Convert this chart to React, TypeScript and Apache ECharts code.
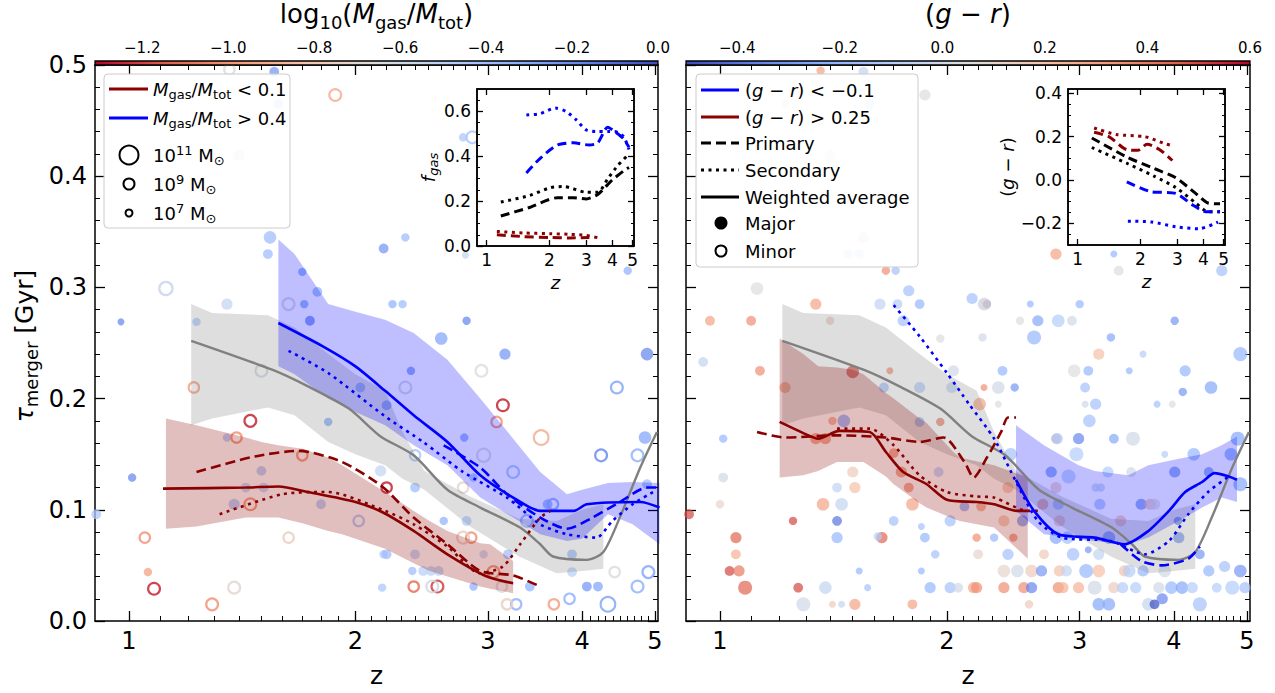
import React, { useEffect, useRef } from "react";
import * as echarts from "echarts";

// ---------------- tick labels ----------------
const zMajorTicks = [1, 2, 3, 4, 5];
const tauMajorTicks = [0, 0.1, 0.2, 0.3, 0.4, 0.5];
const fgasInsetTicks = [0, 0.2, 0.4, 0.6];
const grInsetTicks = [-0.2, 0, 0.2, 0.4];
const fgasCbarTicks = [-1.2, -1.0, -0.8, -0.6, -0.4, -0.2, 0.0];
const grCbarTicks = [-0.4, -0.2, 0.0, 0.2, 0.4, 0.6];

// ---------------- all mergers (gray) ----------------
const allZ = [1.21, 1.55, 1.73, 1.96, 2.16, 2.39, 2.65, 2.93, 3.31, 3.52, 3.66, 4.06, 4.27, 4.49, 4.78, 5.03];
const allTau = [0.252, 0.226, 0.211, 0.191, 0.166, 0.149, 0.118, 0.102, 0.084, 0.069, 0.058, 0.055, 0.062, 0.093, 0.138, 0.17];
const allBandZ = [1.21, 1.29, 1.53, 1.66, 1.84, 2.0, 2.19, 2.31, 2.47, 2.84, 3.3, 3.7, 4.0, 4.27];
const allBandHi = [0.285, 0.277, 0.275, 0.264, 0.24, 0.222, 0.207, 0.17, 0.135, 0.112, 0.092, 0.09, 0.1, 0.105];
const allBandLo = [0.176, 0.182, 0.192, 0.185, 0.161, 0.15, 0.14, 0.128, 0.118, 0.085, 0.058, 0.043, 0.045, 0.047];

// ---------------- left panel: gas-rich (blue) ----------------
const gasRichBandZ = [1.58, 1.66, 1.84, 2.0, 2.19, 2.39, 2.65, 2.93, 3.24, 3.52, 3.82, 4.0, 4.33, 4.67, 5.07];
const gasRichBandHi = [0.343, 0.33, 0.285, 0.278, 0.271, 0.259, 0.235, 0.2, 0.164, 0.134, 0.114, 0.118, 0.124, 0.125, 0.124];
const gasRichBandLo = [0.229, 0.222, 0.2, 0.188, 0.176, 0.158, 0.14, 0.111, 0.093, 0.078, 0.072, 0.074, 0.096, 0.087, 0.069];
const gasRichAvgZ = [1.58, 1.81, 2.0, 2.19, 2.39, 2.65, 2.93, 3.24, 3.52, 3.9, 4.06, 4.78, 5.07];
const gasRichAvgTau = [0.268, 0.247, 0.229, 0.207, 0.185, 0.161, 0.131, 0.111, 0.099, 0.099, 0.105, 0.107, 0.102];
const gasRichSecZ = [1.63, 1.84, 2.19, 2.46, 2.78, 3.18, 3.52, 3.82, 4.18, 4.39, 4.67, 4.97];
const gasRichSecTau = [0.243, 0.223, 0.184, 0.161, 0.134, 0.111, 0.087, 0.078, 0.075, 0.09, 0.105, 0.116];
const gasRichPriZ = [2.62, 2.93, 3.18, 3.52, 3.82, 4.13, 4.49, 4.88, 5.07];
const gasRichPriTau = [0.158, 0.138, 0.114, 0.093, 0.083, 0.093, 0.107, 0.12, 0.12];

// ---------------- left panel: gas-poor (dark red) ----------------
const gasPoorBandZ = [1.12, 1.23, 1.43, 1.5, 1.58, 1.7, 1.84, 1.92, 2.19, 2.39, 2.51, 2.65, 2.93, 3.02, 3.24];
const gasPoorBandHi = [0.182, 0.176, 0.165, 0.161, 0.158, 0.155, 0.147, 0.14, 0.116, 0.099, 0.09, 0.081, 0.07, 0.069, 0.054];
const gasPoorBandLo = [0.083, 0.085, 0.093, 0.093, 0.093, 0.088, 0.081, 0.078, 0.065, 0.052, 0.045, 0.04, 0.031, 0.029, 0.025];
const gasPoorAvgZ = [1.11, 1.43, 1.58, 1.73, 2.0, 2.17, 2.39, 2.65, 2.99, 3.24];
const gasPoorAvgTau = [0.119, 0.12, 0.121, 0.116, 0.107, 0.098, 0.081, 0.06, 0.04, 0.034];
const gasPoorPriZ = [1.23, 1.47, 1.68, 1.92, 2.17, 2.39, 2.65, 2.93, 3.24, 3.52];
const gasPoorPriTau = [0.134, 0.148, 0.153, 0.143, 0.121, 0.093, 0.069, 0.045, 0.041, 0.031];
const gasPoorSecZ = [1.32, 1.6, 1.84, 2.19, 2.39, 2.65, 2.93, 3.14, 3.31, 3.52, 3.63];
const gasPoorSecTau = [0.096, 0.114, 0.116, 0.099, 0.087, 0.067, 0.043, 0.049, 0.069, 0.093, 0.099];

// ---------------- right panel: blue (g-r < -0.1) ----------------
const blueBandZ = [2.47, 2.69, 2.99, 3.14, 3.48, 3.7, 4.06, 4.36, 4.63, 4.85];
const blueBandHi = [0.176, 0.158, 0.14, 0.135, 0.131, 0.14, 0.146, 0.15, 0.158, 0.166];
const blueBandLo = [0.099, 0.078, 0.074, 0.072, 0.069, 0.075, 0.09, 0.102, 0.111, 0.107];
const blueAvgZ = [2.47, 2.61, 2.81, 3.14, 3.44, 3.7, 3.94, 4.14, 4.36, 4.53, 4.73, 4.85];
const blueAvgTau = [0.127, 0.099, 0.078, 0.075, 0.069, 0.081, 0.099, 0.116, 0.125, 0.133, 0.13, 0.127];
const blueSecZ = [1.7, 1.84, 2.0, 2.14, 2.31, 2.48, 2.64, 2.84, 3.3, 3.66, 3.94, 4.18, 4.44, 4.73];
const blueSecTau = [0.284, 0.256, 0.223, 0.195, 0.164, 0.123, 0.09, 0.075, 0.072, 0.06, 0.072, 0.096, 0.116, 0.13];
const bluePriZ = [3.4, 3.62, 3.85, 4.18, 4.33];
const bluePriTau = [0.069, 0.054, 0.05, 0.056, 0.067];

// ---------------- right panel: red (g-r > 0.25) ----------------
const redBandZ = [1.2, 1.29, 1.35, 1.43, 1.5, 1.55, 1.66, 1.7, 1.84, 1.88, 2.04, 2.08, 2.31, 2.56];
const redBandHi = [0.254, 0.24, 0.229, 0.228, 0.226, 0.222, 0.205, 0.2, 0.182, 0.178, 0.152, 0.147, 0.14, 0.129];
const redBandLo = [0.129, 0.131, 0.135, 0.143, 0.143, 0.143, 0.13, 0.123, 0.106, 0.102, 0.092, 0.09, 0.084, 0.056];
const redAvgZ = [1.2, 1.29, 1.35, 1.44, 1.58, 1.66, 1.75, 1.88, 2.0, 2.19, 2.31, 2.48, 2.56];
const redAvgTau = [0.179, 0.169, 0.164, 0.171, 0.17, 0.152, 0.134, 0.123, 0.109, 0.107, 0.105, 0.099, 0.099];
const redPriZ = [1.12, 1.22, 1.43, 1.66, 1.84, 1.98, 2.11, 2.17, 2.26, 2.36, 2.41, 2.47];
const redPriTau = [0.17, 0.165, 0.167, 0.165, 0.161, 0.165, 0.143, 0.129, 0.147, 0.17, 0.183, 0.183];
const redSecZ = [1.43, 1.58, 1.7, 1.84, 2.0, 2.19, 2.31, 2.56, 2.64];
const redSecTau = [0.173, 0.173, 0.158, 0.131, 0.116, 0.112, 0.111, 0.099, 0.099];

// ---------------- left inset: f_gas vs z ----------------
const fgRichSecZ = [1.55, 1.8, 2.13, 2.4, 2.7, 3.0, 3.4, 3.8, 4.1, 4.5, 4.8];
const fgRichSec = [0.584, 0.59, 0.615, 0.6, 0.56, 0.517, 0.51, 0.51, 0.51, 0.49, 0.43];
const fgRichPriZ = [1.55, 1.8, 2.18, 2.6, 3.1, 3.4, 3.8, 4.1, 4.5, 4.8];
const fgRichPri = [0.326, 0.39, 0.45, 0.46, 0.45, 0.46, 0.53, 0.51, 0.48, 0.44];
const fgAllSecZ = [1.17, 1.6, 2.02, 2.34, 3.0, 3.4, 3.8, 4.25, 4.8];
const fgAllSec = [0.196, 0.225, 0.26, 0.265, 0.24, 0.24, 0.3, 0.36, 0.41];
const fgAllPriZ = [1.17, 1.58, 2.18, 2.6, 3.0, 3.4, 4.0, 4.6, 4.8];
const fgAllPri = [0.134, 0.17, 0.215, 0.215, 0.21, 0.23, 0.295, 0.34, 0.35];
const fgPoorSecZ = [1.12, 1.5, 2.0, 2.5, 3.0, 3.4];
const fgPoorSec = [0.065, 0.058, 0.055, 0.052, 0.047, 0.037];
const fgPoorPriZ = [1.12, 1.5, 2.0, 2.5, 3.1];
const fgPoorPri = [0.05, 0.042, 0.038, 0.036, 0.038];

// ---------------- right inset: (g-r) vs z ----------------
const grRedSecZ = [1.2, 1.53, 2.09, 2.58, 2.8];
const grRedSec = [0.24, 0.21, 0.2, 0.17, 0.16];
const grRedPriZ = [1.2, 1.41, 1.72, 1.94, 2.15, 2.47, 2.84];
const grRedPri = [0.22, 0.2, 0.14, 0.137, 0.165, 0.14, 0.09];
const grAllPriZ = [1.17, 1.72, 2.32, 2.95, 3.67, 4.2, 4.8];
const grAllPri = [0.194, 0.106, 0.053, 0.01, -0.062, -0.106, -0.11];
const grAllSecZ = [1.17, 1.74, 2.32, 2.95, 3.67, 4.2, 4.8];
const grAllSec = [0.15, 0.075, 0.018, -0.035, -0.106, -0.146, -0.146];
const grBluePriZ = [1.72, 2.22, 2.95, 3.55, 4.1, 4.8];
const grBluePri = [-0.009, -0.053, -0.062, -0.115, -0.146, -0.146];
const grBlueSecZ = [1.74, 2.27, 2.95, 3.8, 4.7];
const grBlueSec = [-0.19, -0.194, -0.216, -0.225, -0.194];

// ---------------- scatter: [z, tau, log10(Mgas/Mtot), log10 M, major(1)/minor(0)] ----------------
const leftPoints: number[][] = [
  [1.36, 0.496, -0.65, 8.5, 0], [1.56, 0.494, -0.25, 9, 1], [1.88, 0.473, -0.9, 9, 0], [1.58, 0.465, -0.45, 9, 1],
  [1.40, 0.419, -0.6, 9.5, 1], [1.54, 0.345, -0.4, 10, 1], [1.53, 0.33, -0.4, 9, 1], [2.18, 0.335, -0.25, 9, 1],
  [2.33, 0.345, -0.4, 8.5, 1], [0.976, 0.269, -0.2, 8, 1], [1.23, 0.269, -0.45, 8.5, 1], [1.12, 0.299, -0.55, 9.5, 0],
  [1.35, 0.285, -0.55, 9.5, 1], [0.905, 0.096, -0.45, 9, 1], [1.01, 0.129, -0.2, 8.5, 1], [1.05, 0.075, -1.0, 8.5, 0],
  [1.06, 0.044, -0.95, 8.5, 1], [1.08, 0.029, -1.25, 9, 0], [1.29, 0.015, -1.0, 9, 0], [1.38, 0.03, -0.7, 9, 0],
  [1.22, 0.21, -0.95, 8.5, 0], [1.45, 0.18, -1.25, 9, 0], [1.35, 0.165, -0.45, 8.5, 1], [1.39, 0.165, -1.0, 8.5, 0],
  [1.5, 0.225, -0.6, 9, 0], [1.5, 0.135, -0.45, 9, 1], [1.43, 0.12, -0.5, 9, 1], [1.51, 0.12, -0.5, 9, 1],
  [1.38, 0.105, -0.45, 9.5, 1], [1.45, 0.105, -1.0, 9, 0], [1.7, 0.149, -1.0, 8.5, 0], [1.63, 0.075, -0.75, 8.5, 0],
  [1.8, 0.105, -0.45, 9, 1], [1.84, 0.179, -0.3, 8.5, 1], [2.02, 0.09, -0.45, 8.5, 0], [2.16, 0.135, -0.55, 9.5, 1],
  [1.74, 0.27, -0.2, 9, 1], [1.71, 0.285, -0.3, 8.5, 1], [1.7, 0.314, -0.3, 8.5, 1], [1.78, 0.296, -0.35, 9, 1],
  [1.63, 0.285, -0.6, 9, 0], [2.03, 0.21, -0.35, 9, 1], [2.18, 0.06, -0.45, 8.5, 1], [2.17, 0.03, -0.45, 8.5, 1],
  [2.8, 0.329, -0.55, 8, 1], [4.6, 0.315, -0.35, 8.5, 1], [2.24, 0.285, -0.35, 8.5, 1], [2.31, 0.285, -0.4, 8.5, 1],
  [2.81, 0.27, -0.2, 8.5, 1], [2.6, 0.254, -0.3, 10, 1], [3.16, 0.24, -0.25, 9.5, 1], [4.88, 0.24, -0.2, 10, 1],
  [2.94, 0.225, -0.65, 9, 0], [2.37, 0.225, -0.25, 8.5, 1], [4.45, 0.21, -0.3, 9, 0], [2.33, 0.21, -0.6, 9, 0],
  [3.14, 0.194, -1.25, 9, 0], [3.08, 0.179, -1.0, 8.5, 0], [3.53, 0.165, -0.9, 10, 0], [2.79, 0.165, -0.3, 8.5, 1],
  [4.85, 0.165, -0.3, 10, 1], [4.24, 0.149, -0.2, 9, 0], [4.74, 0.149, -0.35, 9, 0], [2.4, 0.149, -0.45, 8.5, 0],
  [2.96, 0.149, -0.65, 9.5, 0], [2.2, 0.194, -0.3, 9, 1], [3.24, 0.134, -0.45, 9, 0], [2.4, 0.12, -0.4, 9, 1],
  [2.2, 0.12, -1.25, 8.5, 0], [2.78, 0.12, -0.7, 8.5, 0], [2.87, 0.129, -0.4, 8.5, 1], [4.88, 0.123, -0.4, 9, 1],
  [3.6, 0.105, -0.35, 9, 1], [3.66, 0.105, -0.35, 8.5, 0], [2.62, 0.09, -0.35, 8.5, 1], [2.81, 0.09, -0.45, 9, 1],
  [3.38, 0.09, -0.4, 9, 0], [2.85, 0.075, -1.0, 8.5, 0], [2.78, 0.075, -0.75, 9, 0], [3.88, 0.06, -0.4, 9, 1],
  [3.19, 0.06, -0.4, 9, 1], [2.2, 0.06, -0.4, 9, 1], [2.4, 0.06, -0.5, 9, 1], [2.96, 0.06, -0.55, 8.5, 1],
  [2.38, 0.045, -0.4, 8.5, 1], [2.46, 0.045, -0.5, 9, 1], [2.52, 0.045, -0.5, 9, 1], [2.58, 0.045, -0.5, 9, 1],
  [3.88, 0.044, -0.5, 9, 1], [3.05, 0.044, -1.0, 9, 0], [4.42, 0.044, -0.65, 8.5, 0], [4.9, 0.044, -0.3, 9, 0],
  [4.06, 0.031, -0.25, 9, 1], [4.2, 0.031, -0.3, 9, 1], [3.41, 0.031, -0.35, 9, 1], [2.87, 0.031, -0.35, 8.5, 1],
  [2.57, 0.031, -1.2, 9, 0], [2.53, 0.031, -0.6, 9, 0], [2.39, 0.031, -1.1, 8.5, 0], [4.74, 0.031, -0.35, 9, 0],
  [3.27, 0.015, -0.35, 8.5, 0], [3.18, 0.015, -0.75, 8.5, 0], [3.67, 0.015, -0.95, 8.5, 0], [3.85, 0.02, -0.35, 8.5, 0],
  [4.33, 0.015, -0.3, 10, 0], [3.13, 0.031, -0.65, 8.5, 0], [2.78, 0.435, -0.45, 8.5, 1], [2.86, 0.435, -0.45, 9, 0],
];

// [z, tau, (g-r), log10 M]
const rightPoints: number[][] = [
  [1.36, 0.495, 0.3, 8.5], [1.55, 0.494, -0.05, 9], [1.87, 0.473, 0.05, 9.5], [1.22, 0.465, 0.15, 8.5],
  [1.58, 0.465, -0.1, 9], [1.36, 0.449, 0.15, 8.5], [1.4, 0.419, 0.05, 9.5], [1.55, 0.345, 0.15, 9.5],
  [1.48, 0.33, 0.0, 9], [1.53, 0.33, -0.05, 9], [1.66, 0.315, 0.35, 8.5], [1.71, 0.315, -0.15, 8.5],
  [1.12, 0.299, 0.05, 10], [0.97, 0.27, 0.3, 9], [1.1, 0.27, 0.35, 9], [1.34, 0.285, 0.3, 9.5],
  [1.4, 0.27, 0.15, 8.5], [0.95, 0.233, -0.05, 9], [1.13, 0.225, 0.35, 9], [1.5, 0.224, 0.5, 10],
  [1.68, 0.225, 0.35, 8], [1.22, 0.21, 0.3, 9.5], [1.65, 0.21, -0.15, 9], [1.78, 0.297, -0.15, 9.5],
  [1.63, 0.285, -0.05, 9.5], [1.72, 0.285, -0.1, 9], [1.84, 0.285, -0.2, 9], [1.75, 0.27, -0.15, 9.5],
  [1.96, 0.254, 0.05, 8.5], [2.04, 0.225, 0.0, 9.5], [2.16, 0.29, -0.15, 9.5], [1.84, 0.21, -0.1, 9.5],
  [2.03, 0.21, -0.05, 9.5], [1.84, 0.179, -0.2, 9], [1.96, 0.179, 0.4, 8.5], [1.46, 0.18, -0.25, 10],
  [1.41, 0.18, 0.3, 8.5], [1.01, 0.164, -0.2, 8.5], [1.34, 0.164, 0.35, 9.5], [1.38, 0.164, 0.35, 9.5],
  [1.01, 0.129, 0.0, 9], [1.5, 0.134, 0.15, 9.5], [1.7, 0.151, 0.35, 9], [1.74, 0.134, 0.35, 9.5],
  [1.95, 0.134, -0.1, 9], [1.78, 0.12, 0.35, 9], [1.43, 0.12, -0.05, 9], [1.51, 0.12, 0.2, 9.5],
  [1.0, 0.105, 0.1, 8.5], [1.37, 0.105, 0.3, 10], [1.45, 0.105, -0.05, 10], [1.8, 0.105, 0.3, 10],
  [2.11, 0.103, -0.25, 9], [0.91, 0.096, 0.5, 9], [1.25, 0.09, 0.5, 8.5], [1.43, 0.09, -0.4, 9],
  [1.7, 0.09, -0.15, 9], [2.02, 0.09, -0.15, 9.5], [1.85, 0.085, -0.15, 8], [1.05, 0.075, 0.45, 9.5],
  [1.43, 0.075, -0.2, 9.5], [1.64, 0.075, 0.45, 9.5], [1.62, 0.076, -0.1, 8.5], [1.87, 0.075, -0.2, 9],
  [1.05, 0.06, 0.25, 9], [1.93, 0.06, -0.15, 8.5], [1.03, 0.045, 0.5, 9], [1.06, 0.045, 0.4, 9.5],
  [1.53, 0.045, -0.2, 8], [1.85, 0.045, -0.2, 8], [1.08, 0.03, 0.45, 10.5], [1.27, 0.03, 0.5, 9],
  [1.38, 0.03, -0.05, 10], [1.57, 0.03, -0.15, 8], [1.9, 0.03, -0.2, 9.5], [2.02, 0.03, -0.15, 9.5],
  [2.07, 0.03, 0.0, 9], [2.17, 0.03, 0.3, 9.5], [1.29, 0.015, 0.0, 10.5], [1.41, 0.015, 0.15, 8],
  [1.45, 0.015, -0.05, 8], [1.51, 0.015, 0.3, 9.5], [1.8, 0.015, 0.3, 9],
  [2.79, 0.33, 0.3, 9.5], [3.33, 0.33, -0.2, 8], [3.38, 0.315, 0.05, 9], [4.63, 0.315, -0.15, 9.5],
  [2.24, 0.285, -0.05, 10], [2.26, 0.285, -0.4, 8.5], [2.25, 0.285, 0.1, 9.5], [2.58, 0.285, -0.2, 8],
  [3.0, 0.285, -0.2, 8.5], [2.5, 0.27, 0.05, 8.5], [2.64, 0.27, -0.25, 9.5], [2.81, 0.27, -0.1, 10],
  [2.93, 0.27, 0.0, 9], [4.01, 0.27, -0.3, 8.5], [2.23, 0.255, 0.0, 8.5], [2.61, 0.255, -0.2, 10.5],
  [3.3, 0.255, -0.25, 8.5], [3.18, 0.24, 0.2, 9.5], [3.64, 0.24, -0.1, 8], [4.9, 0.24, -0.2, 10.5],
  [2.37, 0.225, -0.2, 9], [2.95, 0.225, 0.05, 10], [3.08, 0.225, -0.2, 9], [3.49, 0.225, -0.2, 8],
  [4.14, 0.225, -0.2, 9.5], [2.24, 0.21, 0.35, 8], [2.34, 0.21, 0.0, 10], [2.46, 0.21, -0.3, 8.5],
  [3.05, 0.21, -0.15, 9], [4.11, 0.206, -0.3, 8.5], [4.48, 0.21, -0.25, 10], [2.21, 0.195, 0.3, 10],
  [2.34, 0.195, 0.05, 8], [3.05, 0.195, 0.0, 8], [3.15, 0.195, -0.15, 9.5], [3.8, 0.195, -0.15, 8],
  [3.98, 0.195, 0.05, 8], [3.09, 0.18, -0.15, 10], [2.79, 0.164, 0.2, 9], [2.8, 0.164, -0.15, 9.5],
  [2.99, 0.164, -0.35, 9.5], [3.33, 0.164, -0.25, 9], [3.53, 0.164, 0.0, 10.5], [4.86, 0.164, -0.25, 10.5],
  [2.43, 0.15, -0.15, 10], [2.97, 0.15, -0.1, 10.5], [3.89, 0.15, -0.1, 8], [4.25, 0.15, -0.2, 10],
  [4.76, 0.15, -0.25, 10], [2.75, 0.134, -0.3, 9.5], [2.9, 0.13, -0.1, 10.5], [3.27, 0.134, -0.1, 9.5],
  [3.51, 0.134, 0.0, 9], [4.01, 0.134, -0.3, 9.5], [4.45, 0.134, -0.3, 9], [4.9, 0.123, -0.25, 10.5],
  [3.15, 0.12, -0.05, 8.5], [3.2, 0.12, -0.05, 8.5], [2.79, 0.12, 0.15, 9.5], [2.41, 0.12, 0.2, 9.5],
  [2.22, 0.103, 0.3, 9], [2.68, 0.105, 0.3, 9.5], [2.81, 0.105, -0.15, 9.5], [3.19, 0.105, -0.15, 9.5],
  [3.62, 0.105, -0.3, 9.5], [3.72, 0.105, 0.2, 9.5], [3.77, 0.105, 0.05, 9.5], [2.38, 0.09, 0.2, 9.5],
  [2.52, 0.09, -0.3, 9.5], [2.82, 0.09, 0.2, 9.5], [3.4, 0.09, 0.2, 9.5], [4.05, 0.09, -0.35, 8.5],
  [2.19, 0.075, 0.35, 8.5], [2.31, 0.075, -0.2, 8.5], [2.45, 0.075, 0.35, 8.5], [2.79, 0.075, -0.25, 10],
  [2.89, 0.075, -0.15, 10], [3.28, 0.075, -0.3, 10], [4.06, 0.075, -0.3, 9.5], [2.2, 0.06, 0.1, 9],
  [2.41, 0.06, -0.15, 9.5], [2.69, 0.06, 0.15, 9], [2.94, 0.06, -0.15, 10], [3.18, 0.06, -0.05, 9.5],
  [3.08, 0.064, -0.3, 8], [4.33, 0.06, -0.3, 9], [2.38, 0.045, 0.1, 10], [2.48, 0.045, 0.0, 10],
  [2.59, 0.045, 0.15, 10], [2.67, 0.045, -0.3, 9.5], [2.82, 0.045, 0.2, 9.5], [2.88, 0.045, -0.05, 9.5],
  [3.06, 0.045, -0.2, 10.5], [3.18, 0.045, 0.2, 10], [3.44, 0.045, 0.2, 9.5], [3.49, 0.045, -0.1, 10],
  [3.64, 0.045, -0.2, 9.5], [3.89, 0.045, 0.0, 10], [4.45, 0.045, -0.2, 9.5], [4.67, 0.049, -0.15, 9.5],
  [4.9, 0.045, -0.3, 10], [2.19, 0.03, 0.35, 9.5], [2.38, 0.03, 0.35, 9.5], [2.53, 0.03, 0.35, 9.5],
  [2.59, 0.03, -0.35, 9.5], [2.81, 0.03, 0.35, 9.5], [2.85, 0.03, 0.25, 9.5], [2.99, 0.03, 0.25, 9.5],
  [3.14, 0.03, 0.0, 10.5], [3.33, 0.03, 0.15, 9.5], [3.42, 0.03, -0.1, 9.5], [3.56, 0.03, -0.1, 9.5],
  [3.82, 0.03, 0.0, 9.5], [3.97, 0.03, -0.2, 10], [4.1, 0.03, -0.25, 10], [4.23, 0.03, -0.1, 9.5],
  [4.56, 0.03, -0.1, 9], [4.78, 0.03, -0.1, 10.5], [4.97, 0.03, -0.15, 9.5], [2.57, 0.015, 0.15, 8.5],
  [3.18, 0.015, -0.25, 10], [3.28, 0.015, -0.25, 10], [3.7, 0.015, -0.05, 10], [3.77, 0.015, -0.55, 9],
  [3.86, 0.02, -0.35, 9.5], [4.33, 0.015, -0.15, 10.5],
];

// ---------------- styling helpers ----------------
const FONT = "DejaVu Sans";
const DARKRED = "#8b0000";
const BLUE = "#0000ff";
const GRAY = "#808080";
const X_MIN = -0.045; // log10(z) extent of main panels
const X_MAX = 0.703;
const FGAS_MIN = -1.31, FGAS_MAX = 0.0;
const GR_MIN = -0.5, GR_MAX = 0.6;

const CW = [[59, 76, 192], [98, 130, 234], [141, 176, 254], [184, 208, 249], [221, 221, 221], [245, 196, 173], [244, 154, 123], [222, 96, 77], [180, 4, 38]];
function coolwarm(t: number) {
  const tt = Math.max(0, Math.min(1, t)) * 8;
  const i = Math.min(7, Math.floor(tt));
  const f = tt - i;
  const a = CW[i], b = CW[i + 1];
  return `rgb(${Math.round(a[0] + (b[0] - a[0]) * f)},${Math.round(a[1] + (b[1] - a[1]) * f)},${Math.round(a[2] + (b[2] - a[2]) * f)})`;
}
const lg = (z: number) => Math.log10(z);
const massSize = (m: number) => 7 + (m - 8) * 2.8;
const fmt1 = (v: number) => (v < -1e-9 ? "\u2212" : "") + Math.abs(v).toFixed(1);
function steps(a: number, b: number, s: number, skip: number[] = []) {
  const out: number[] = [];
  for (let k = 0; a + k * s <= b + 1e-9; k++) {
    const v = Math.round((a + k * s) * 1000) / 1000;
    if (!skip.some((x) => Math.abs(x - v) < 1e-6)) out.push(v);
  }
  return out;
}
function rich(fs: number) {
  const sub = Math.round(fs * 0.7);
  const c = { fontFamily: FONT, fill: "#000", color: "#000" };
  return {
    n: { ...c, fontSize: fs, lineHeight: Math.round(fs * 1.3) },
    i: { ...c, fontSize: fs, fontStyle: "italic", lineHeight: Math.round(fs * 1.3) },
    s: { ...c, fontSize: sub, verticalAlign: "bottom", lineHeight: sub },
    si: { ...c, fontSize: sub, fontStyle: "italic", verticalAlign: "bottom", lineHeight: sub },
    p: { ...c, fontSize: sub, verticalAlign: "top", lineHeight: sub },
  };
}

function buildOption() {
  const xAxes: any[] = [];
  const yAxes: any[] = [];
  const grids: any[] = [
    { left: 95, top: 65, width: 563, height: 563 },
    { left: 686, top: 65, width: 564, height: 563 },
    { left: 477, top: 89, width: 157, height: 157, show: true, backgroundColor: "#fff", borderColor: "#000", borderWidth: 1.5, z: 10 },
    { left: 1068, top: 89, width: 157, height: 156, show: true, backgroundColor: "#fff", borderColor: "#000", borderWidth: 1.5, z: 10 },
    { left: 95, top: 55, width: 563, height: 10 },
    { left: 686, top: 55, width: 564, height: 10 },
  ];

  function axisGroup(kind: "x" | "y", grid: number, min: number, max: number, majors: number[], minors: number[], o: any) {
    const list = kind === "x" ? xAxes : yAxes;
    const start = list.length;
    const sides = kind === "x" ? ["bottom", "top"] : ["left", "right"];
    const z = o.z ?? 0;
    const base = { type: "value", gridIndex: grid, min, max, splitLine: { show: false }, z };
    const tick = (vals: number[], len: number, w: number) => ({ show: true, inside: true, length: len, customValues: vals, lineStyle: { color: "#000", width: w } });
    list.push({
      ...base, position: sides[0],
      axisLine: { show: true, onZero: false, lineStyle: { color: "#000", width: 1.5 } },
      axisTick: tick(majors, o.majorLen, 1.3),
      axisLabel: { show: !!o.labels, customValues: majors, formatter: o.fmt, fontSize: o.fs, fontFamily: FONT, color: "#000", margin: o.margin ?? 8 },
      name: o.name, nameLocation: "middle", nameGap: o.nameGap, nameTextStyle: o.nameStyle,
    });
    list.push({ ...base, position: sides[0], axisLine: { show: false, onZero: false }, axisTick: tick(minors, o.minorLen, 1), axisLabel: { show: false } });
    list.push({ ...base, position: sides[1], axisLine: { show: true, onZero: false, lineStyle: { color: "#000", width: 1.5 } }, axisTick: tick(majors, o.majorLen, 1.3), axisLabel: { show: false } });
    list.push({ ...base, position: sides[1], axisLine: { show: false, onZero: false }, axisTick: tick(minors, o.minorLen, 1), axisLabel: { show: false } });
    return start;
  }

  const zMinor = steps(0.9, 5.0, 0.1, zMajorTicks).map(lg);
  const zMaj = zMajorTicks.map(lg);
  const zFmt = (v: number) => String(Math.round(Math.pow(10, v)));
  const tauMinor = steps(0, 0.5, 0.02, tauMajorTicks);

  const xName = { fontSize: 25, fontFamily: FONT, color: "#000" };
  // main panels
  const Lx = axisGroup("x", 0, X_MIN, X_MAX, zMaj, zMinor, { labels: true, fmt: zFmt, fs: 24, majorLen: 10, minorLen: 5, name: "z", nameGap: 42, nameStyle: xName });
  const Ly = axisGroup("y", 0, 0, 0.5, tauMajorTicks, tauMinor, { labels: true, fmt: fmt1, fs: 24, majorLen: 10, minorLen: 5 });
  const Rx = axisGroup("x", 1, X_MIN, X_MAX, zMaj, zMinor, { labels: true, fmt: zFmt, fs: 24, majorLen: 10, minorLen: 5, name: "z", nameGap: 42, nameStyle: xName });
  const Ry = axisGroup("y", 1, 0, 0.5, tauMajorTicks, tauMinor, { labels: false, fmt: fmt1, fs: 24, majorLen: 10, minorLen: 5 });
  // insets
  const insetName = { fontSize: 18, fontFamily: FONT, color: "#000", rich: rich(18) };
  const ILx = axisGroup("x", 2, lg(0.9), 0.705, zMaj, [], { z: 12, labels: true, fmt: zFmt, fs: 17, majorLen: 6, minorLen: 3, margin: 5, name: "{i|z}", nameGap: 25, nameStyle: insetName });
  const ILy = axisGroup("y", 2, 0, 0.7, fgasInsetTicks, steps(0, 0.7, 0.05, fgasInsetTicks), { z: 12, labels: true, fmt: fmt1, fs: 17, majorLen: 6, minorLen: 3, margin: 6, name: "{i|f}{si|gas}", nameGap: 36, nameStyle: insetName });
  const IRx = axisGroup("x", 3, lg(0.9), 0.705, zMaj, [], { z: 12, labels: true, fmt: zFmt, fs: 17, majorLen: 6, minorLen: 3, margin: 5, name: "{i|z}", nameGap: 25, nameStyle: insetName });
  const IRy = axisGroup("y", 3, -0.3, 0.42, grInsetTicks, steps(-0.3, 0.42, 0.05, grInsetTicks), { z: 12, labels: true, fmt: fmt1, fs: 17, majorLen: 6, minorLen: 3, margin: 6, name: "({i|g}{n| \u2212 }{i|r})", nameGap: 42, nameStyle: insetName });

  // colorbars
  const cbTitle = { fontSize: 26, fontFamily: FONT, color: "#000", rich: rich(26) };
  const CLx = xAxes.length;
  xAxes.push({
    type: "value", gridIndex: 4, position: "top", min: FGAS_MIN, max: FGAS_MAX, splitLine: { show: false },
    axisLine: { show: false, onZero: false }, axisTick: { show: false },
    axisLabel: { customValues: fgasCbarTicks, formatter: fmt1, fontSize: 15, fontFamily: FONT, color: "#000", margin: 6 },
    name: "{n|log}{s|10}{n|(}{i|M}{s|gas}{n|/}{i|M}{s|tot}{n|)}", nameLocation: "middle", nameGap: 30, nameTextStyle: cbTitle,
  });
  const CRx = xAxes.length;
  xAxes.push({
    type: "value", gridIndex: 5, position: "top", min: GR_MIN, max: GR_MAX, splitLine: { show: false },
    axisLine: { show: false, onZero: false }, axisTick: { show: false },
    axisLabel: { customValues: grCbarTicks, formatter: fmt1, fontSize: 15, fontFamily: FONT, color: "#000", margin: 6 },
    name: "{n|(}{i|g}{n| \u2212 }{i|r}{n|)}", nameLocation: "middle", nameGap: 30, nameTextStyle: cbTitle,
  });
  const CLy = yAxes.length;
  yAxes.push({ type: "value", gridIndex: 4, min: 0, max: 1, show: false });
  const CRy = yAxes.length;
  yAxes.push({ type: "value", gridIndex: 5, min: 0, max: 1, show: false });

  const series: any[] = [];

  const cmapStops = (reverse: boolean) =>
    CW.map((_, i) => ({ offset: i / 8, color: coolwarm(reverse ? 1 - i / 8 : i / 8) }));
  const colorbar = (xi: number, yi: number, min: number, max: number, reverse: boolean) => ({
    type: "custom", xAxisIndex: xi, yAxisIndex: yi, silent: true, data: [[min, max]],
    renderItem: (_p: any, api: any) => {
      const a = api.coord([min, 0]);
      const b = api.coord([max, 1]);
      return {
        type: "rect",
        shape: { x: a[0], y: b[1], width: b[0] - a[0], height: a[1] - b[1] },
        style: { fill: new echarts.graphic.LinearGradient(0, 0, 1, 0, cmapStops(reverse)), stroke: "#000", lineWidth: 1.3 },
      };
    },
  });
  series.push(colorbar(CLx, CLy, FGAS_MIN, FGAS_MAX, true));
  series.push(colorbar(CRx, CRy, GR_MIN, GR_MAX, false));

  // scatter
  series.push({
    type: "scatter", xAxisIndex: Lx, yAxisIndex: Ly, z: 1, silent: true,
    data: leftPoints.map((p) => {
      const col = coolwarm(1 - (p[2] - FGAS_MIN) / (FGAS_MAX - FGAS_MIN));
      const d = massSize(p[3]);
      return p[4]
        ? { value: [lg(p[0]), p[1]], symbolSize: d, itemStyle: { color: col, opacity: 0.75 } }
        : { value: [lg(p[0]), p[1]], symbolSize: d + 2, itemStyle: { color: "rgba(0,0,0,0)", borderColor: col, borderWidth: 2.2, opacity: 0.85 } };
    }),
  });
  series.push({
    type: "scatter", xAxisIndex: Rx, yAxisIndex: Ry, z: 1, silent: true,
    data: rightPoints.map((p) => ({
      value: [lg(p[0]), p[1]], symbolSize: massSize(p[3]),
      itemStyle: { color: coolwarm((p[2] - GR_MIN) / (GR_MAX - GR_MIN)), opacity: 0.7 },
    })),
  });

  // bands
  const band = (xi: number, yi: number, zs: number[], lo: number[], hi: number[], fill: string, z = 2) => ({
    type: "custom", xAxisIndex: xi, yAxisIndex: yi, z, silent: true,
    data: zs.map((v, i) => [lg(v), lo[i], hi[i]]),
    encode: { x: 0, y: [1, 2] },
    renderItem: (params: any, api: any) => {
      if (params.dataIndex !== 0) return null;
      const up = zs.map((v, i) => api.coord([lg(v), hi[i]]));
      const dn = zs.map((v, i) => api.coord([lg(v), lo[i]])).reverse();
      return { type: "polygon", shape: { points: up.concat(dn) }, style: { fill } };
    },
  });
  const line = (xi: number, yi: number, zs: number[], vs: number[], color: string, dash: any, width = 2.6, z = 3) => ({
    type: "line", xAxisIndex: xi, yAxisIndex: yi, z, silent: true, showSymbol: false, smooth: 0.25,
    data: zs.map((v, i) => [lg(v), vs[i]]),
    lineStyle: { color, width, type: dash, cap: "butt" },
  });
  const DASH = [10, 5];
  const DOT = [3, 4.5];

  // left panel
  series.push(band(Lx, Ly, allBandZ, allBandLo, allBandHi, "rgba(128,128,128,0.26)"));
  series.push(band(Lx, Ly, gasRichBandZ, gasRichBandLo, gasRichBandHi, "rgba(0,0,255,0.25)"));
  series.push(band(Lx, Ly, gasPoorBandZ, gasPoorBandLo, gasPoorBandHi, "rgba(139,0,0,0.25)"));
  series.push(line(Lx, Ly, allZ, allTau, GRAY, "solid", 2.4));
  series.push(line(Lx, Ly, gasRichAvgZ, gasRichAvgTau, BLUE, "solid"));
  series.push(line(Lx, Ly, gasRichSecZ, gasRichSecTau, BLUE, DOT));
  series.push(line(Lx, Ly, gasRichPriZ, gasRichPriTau, BLUE, DASH));
  series.push(line(Lx, Ly, gasPoorAvgZ, gasPoorAvgTau, DARKRED, "solid"));
  series.push(line(Lx, Ly, gasPoorPriZ, gasPoorPriTau, DARKRED, DASH));
  series.push(line(Lx, Ly, gasPoorSecZ, gasPoorSecTau, DARKRED, DOT));

  // right panel
  series.push(band(Rx, Ry, allBandZ, allBandLo, allBandHi, "rgba(128,128,128,0.26)"));
  series.push(band(Rx, Ry, redBandZ, redBandLo, redBandHi, "rgba(139,0,0,0.25)"));
  series.push(band(Rx, Ry, blueBandZ, blueBandLo, blueBandHi, "rgba(0,0,255,0.25)"));
  series.push(line(Rx, Ry, allZ, allTau, GRAY, "solid", 2.4));
  series.push(line(Rx, Ry, redAvgZ, redAvgTau, DARKRED, "solid"));
  series.push(line(Rx, Ry, redPriZ, redPriTau, DARKRED, DASH));
  series.push(line(Rx, Ry, redSecZ, redSecTau, DARKRED, DOT));
  series.push(line(Rx, Ry, blueAvgZ, blueAvgTau, BLUE, "solid"));
  series.push(line(Rx, Ry, blueSecZ, blueSecTau, BLUE, DOT));
  series.push(line(Rx, Ry, bluePriZ, bluePriTau, BLUE, DASH));

  // insets
  const IDASH = [9, 5];
  const IDOT = [3, 4.5];
  series.push(line(ILx, ILy, fgRichSecZ, fgRichSec, BLUE, IDOT, 3, 12));
  series.push(line(ILx, ILy, fgRichPriZ, fgRichPri, BLUE, IDASH, 3, 12));
  series.push(line(ILx, ILy, fgAllSecZ, fgAllSec, "#000", IDOT, 3, 12));
  series.push(line(ILx, ILy, fgAllPriZ, fgAllPri, "#000", IDASH, 3, 12));
  series.push(line(ILx, ILy, fgPoorSecZ, fgPoorSec, DARKRED, IDOT, 3, 12));
  series.push(line(ILx, ILy, fgPoorPriZ, fgPoorPri, DARKRED, IDASH, 3, 12));
  series.push(line(IRx, IRy, grRedSecZ, grRedSec, DARKRED, IDOT, 3, 12));
  series.push(line(IRx, IRy, grRedPriZ, grRedPri, DARKRED, IDASH, 3, 12));
  series.push(line(IRx, IRy, grAllPriZ, grAllPri, "#000", IDASH, 3, 12));
  series.push(line(IRx, IRy, grAllSecZ, grAllSec, "#000", IDOT, 3, 12));
  series.push(line(IRx, IRy, grBluePriZ, grBluePri, BLUE, IDASH, 3, 12));
  series.push(line(IRx, IRy, grBlueSecZ, grBlueSec, BLUE, IDOT, 3, 12));

  // legends and y-axis title (graphic)
  const R18 = rich(18);
  const txt = (x: number, y: number, text: string) => ({
    type: "text", x, y, z: 30,
    style: { text, rich: R18, fontSize: 18, fontFamily: FONT, fill: "#000", verticalAlign: "middle", align: "left" },
  });
  const seg = (x1: number, x2: number, y: number, stroke: string, dash: any) => ({
    type: "line", z: 30, shape: { x1, y1: y, x2, y2: y }, style: { stroke, lineWidth: 3, lineDash: dash },
  });
  const box = (x: number, y: number, w: number, h: number) => ({
    type: "rect", z: 29, shape: { x, y, width: w, height: h, r: 4 }, style: { fill: "rgba(255,255,255,0.85)", stroke: "#cccccc", lineWidth: 1 },
  });
  const circ = (cx: number, cy: number, r: number, filled: boolean) => ({
    type: "circle", z: 30, shape: { cx, cy, r }, style: filled ? { fill: "#000" } : { fill: "none", stroke: "#000", lineWidth: 2 },
  });
  const elements: any[] = [
    {
      type: "text", x: 24, y: 346, rotation: Math.PI / 2, z: 30,
      style: { text: "{i|\u03c4}{s|merger}{n| [Gyr]}", rich: rich(25), fontSize: 25, fontFamily: FONT, fill: "#000", align: "center", verticalAlign: "middle" },
    },
    box(104, 74, 186, 154),
    seg(109, 148, 89, DARKRED, null), txt(153, 89, "{i|M}{s|gas}{n|/}{i|M}{s|tot}{n| < 0.1}"),
    seg(109, 148, 118, BLUE, null), txt(153, 118, "{i|M}{s|gas}{n|/}{i|M}{s|tot}{n| > 0.4}"),
    circ(129, 155, 9.5, false), txt(153, 155, "{n|10}{p|11}{n| M}{s|\u2299}"),
    circ(129, 184, 5.5, false), txt(153, 184, "{n|10}{p|9}{n| M}{s|\u2299}"),
    circ(129, 213, 3.5, false), txt(153, 213, "{n|10}{p|7}{n| M}{s|\u2299}"),

    box(696, 74, 222, 193),
    seg(701, 739, 90, BLUE, null), txt(745, 90, "{n|(}{i|g}{n| \u2212 }{i|r}{n|) < \u22120.1}"),
    seg(701, 739, 117, DARKRED, null), txt(745, 117, "{n|(}{i|g}{n| \u2212 }{i|r}{n|) > 0.25}"),
    seg(701, 739, 143, "#000", [10, 5]), txt(745, 143, "{n|Primary}"),
    seg(701, 739, 170, "#000", [3, 4.5]), txt(745, 170, "{n|Secondary}"),
    seg(701, 739, 197, "#000", null), txt(745, 197, "{n|Weighted average}"),
    circ(721, 223, 6.5, true), txt(745, 223, "{n|Major}"),
    circ(721, 251, 5.5, false), txt(745, 251, "{n|Minor}"),
  ];

  return {
    animation: false,
    backgroundColor: "#fff",
    textStyle: { fontFamily: FONT },
    grid: grids,
    xAxis: xAxes,
    yAxis: yAxes,
    series,
    graphic: { elements },
  };
}

export default function App() {
  const ref = useRef<HTMLDivElement>(null);
  useEffect(() => {
    document.body.style.margin = "0";
    const chart = echarts.init(ref.current!, null, { renderer: "svg" });
    chart.setOption(buildOption() as any);
    return () => chart.dispose();
  }, []);
  return <div ref={ref} style={{ width: 1275, height: 693 }} />;
}
